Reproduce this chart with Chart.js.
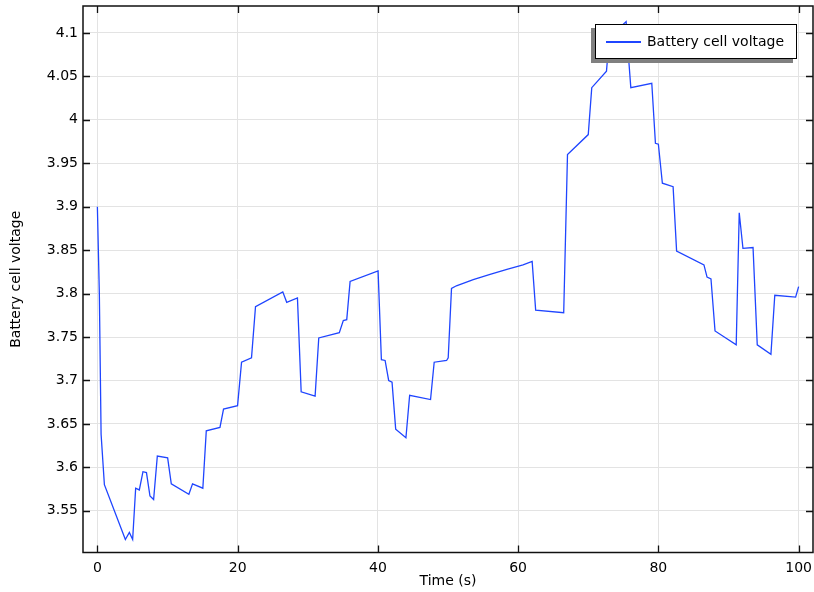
<!DOCTYPE html>
<html>
<head>
<meta charset="utf-8">
<script src="https://cdn.jsdelivr.net/npm/chart.js@4/dist/chart.umd.min.js"></script>
<style>
  body { margin: 0; background: #fff; }
  #wrap { position: relative; width: 814px; height: 592px; }
  #legend {
    position: absolute; left: 595px; top: 24px; width: 200px; height: 33px;
    border: 1.5px solid #000; background: #fff; box-shadow: -4px 4px 0 #808080;
    font-family: "DejaVu Sans", sans-serif; font-size: 14px; color: #000;
  }
  #legend .swatch { position: absolute; left: 10px; top: 16px; width: 35px; height: 1.6px; background: #1f45ff; }
  #legend .label { position: absolute; left: 51px; top: 8px; line-height: 17px; white-space: nowrap; }
</style>
</head>
<body>
<div id="wrap">
  <canvas id="chart" width="814" height="592"></canvas>
  <div id="legend"><span class="swatch"></span><span class="label" id="legendLabel"></span></div>
</div>
<script>
// time (s) and cell voltage
const timeValues = [0, 0.28, 0.53, 1.0, 3.99, 4.56, 5.03, 5.46, 5.98, 6.5, 7.0, 7.5, 8.02, 8.55, 10.02, 10.54,
  13.05, 13.57, 15.04, 15.53, 17.48, 17.99, 19.99, 20.56, 21.98, 22.55, 26.44, 27.0, 28.53, 29.06, 31.05,
  31.57, 34.5, 35.07, 35.56, 36.04, 40.03, 40.5, 41.03, 41.54, 42.02, 42.54, 44.0, 44.53, 47.51, 48.03,
  49.8, 50.03, 50.5, 51.2, 53.6, 56, 58.4, 60.7, 62.0, 62.5, 66.5, 67.04, 70.0, 70.5, 72.6, 73.0, 75.4, 75.8,
  76.07, 79.06, 79.58, 80.0, 80.57, 82.1, 82.6, 86.5, 86.94, 87.5, 88.08, 91.1, 91.53, 92.06, 93.5, 94.1,
  96.05, 96.6, 99.57, 100];
const voltageValues = [3.9, 3.80, 3.638, 3.580, 3.517, 3.525, 3.517, 3.576, 3.574, 3.595, 3.594, 3.567, 3.563,
  3.613, 3.611, 3.581, 3.569, 3.581, 3.576, 3.642, 3.646, 3.667, 3.671, 3.721, 3.726, 3.785, 3.802, 3.790,
  3.795, 3.687, 3.682, 3.749, 3.755, 3.769, 3.770, 3.814, 3.826, 3.724, 3.723, 3.700, 3.698, 3.644, 3.634,
  3.683, 3.678, 3.721, 3.723, 3.726, 3.806, 3.809, 3.816, 3.822, 3.828, 3.833, 3.837, 3.781, 3.778, 3.960,
  3.983, 4.037, 4.056, 4.095, 4.113, 4.066, 4.037, 4.042, 3.973, 3.972, 3.927, 3.923, 3.849, 3.833, 3.819,
  3.817, 3.757, 3.741, 3.893, 3.852, 3.853, 3.741, 3.730, 3.798, 3.796, 3.808];

const xTicks = [0, 20, 40, 60, 80, 100];
const yTicks = [3.55, 3.6, 3.65, 3.7, 3.75, 3.8, 3.85, 3.9, 3.95, 4, 4.05, 4.1];
const seriesLabel = "Battery cell voltage";
const lineColor = "#1f45ff";

const FONT = "DejaVu Sans";
document.getElementById("legendLabel").textContent = seriesLabel;

// frame on all four sides with inward tick marks
const framePlugin = {
  id: "frame",
  afterDatasetsDraw(chart) {
    const { ctx, chartArea: a, scales } = chart;
    const len = 7;
    ctx.save();
    ctx.strokeStyle = "#111";
    ctx.lineWidth = 1.3;
    ctx.beginPath();
    scales.x.ticks.forEach(t => {
      const px = Math.round(scales.x.getPixelForValue(t.value)) + 0.5;
      ctx.moveTo(px, a.bottom); ctx.lineTo(px, a.bottom - len);
      ctx.moveTo(px, a.top); ctx.lineTo(px, a.top + len);
    });
    scales.y.ticks.forEach(t => {
      const py = Math.round(scales.y.getPixelForValue(t.value)) + 0.5;
      ctx.moveTo(a.left, py); ctx.lineTo(a.left + len, py);
      ctx.moveTo(a.right, py); ctx.lineTo(a.right - len, py);
    });
    ctx.stroke();
    ctx.lineWidth = 1.5;
    ctx.strokeRect(a.left, a.top, a.right - a.left, a.bottom - a.top);
    ctx.restore();
  }
};

const points = timeValues.map((t, i) => ({ x: t, y: voltageValues[i] }));

new Chart(document.getElementById("chart"), {
  type: "line",
  data: {
    datasets: [{
      label: seriesLabel,
      data: points,
      borderColor: lineColor,
      borderWidth: 1.3,
      pointRadius: 0,
      fill: false,
      tension: 0
    }]
  },
  options: {
    responsive: false,
    animation: false,
    layout: { padding: { top: 6, right: 1, left: 0, bottom: 0 } },
    plugins: { legend: { display: false }, tooltip: { enabled: false } },
    scales: {
      x: {
        type: "linear",
        min: -2.05,
        max: 102.05,
        afterBuildTicks: s => { s.ticks = xTicks.map(v => ({ value: v })); },
        afterFit: s => { s.height = 39.5; s.paddingLeft = 0; s.paddingRight = 0; },
        grid: { color: "#e3e3e3", drawTicks: false },
        border: { display: false },
        ticks: { color: "#000", padding: 7, font: { family: FONT, size: 14 }, maxRotation: 0 },
        title: { display: true, text: "Time (s)", color: "#000", font: { family: FONT, size: 14 }, padding: { top: 0, bottom: 2 } }
      },
      y: {
        min: 3.502,
        max: 4.131,
        afterBuildTicks: s => { s.ticks = yTicks.map(v => ({ value: v })); },
        afterFit: s => { s.width = 83; s.paddingTop = 0; s.paddingBottom = 0; },
        grid: { color: "#e3e3e3", drawTicks: false },
        border: { display: false },
        ticks: {
          color: "#000", padding: 5, font: { family: FONT, size: 14 },
          callback: v => String(Number(v.toFixed(2)))
        },
        title: { display: true, text: seriesLabel, color: "#000", font: { family: FONT, size: 14 }, padding: { top: 8, bottom: 0 } }
      }
    }
  },
  plugins: [framePlugin]
});
</script>
</body>
</html>
